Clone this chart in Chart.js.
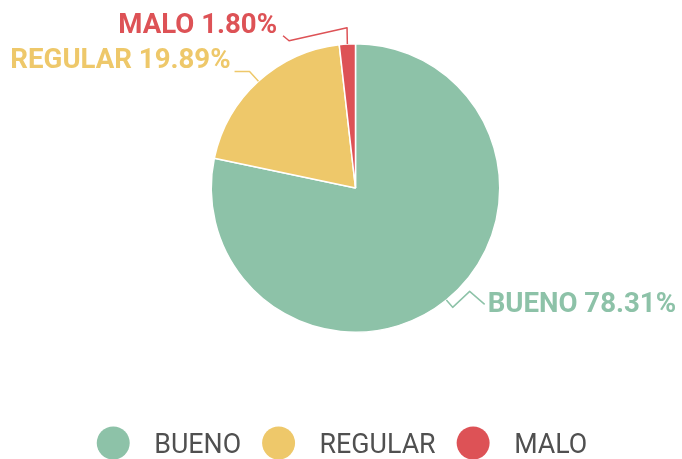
<!DOCTYPE html>
<html>
<head>
<meta charset="utf-8">
<script src="https://cdn.jsdelivr.net/npm/chart.js@4.4.1/dist/chart.umd.min.js"></script>
<style>
  html, body { margin: 0; padding: 0; background: #ffffff; }
  canvas { display: block; }
</style>
</head>
<body>
<canvas id="chart" width="682" height="459"></canvas>
<script>
// Rating categories and their share of responses (percent)
const categories = ['BUENO', 'REGULAR', 'MALO'];
const shares = [78.31, 19.89, 1.80];
const sliceColors = ['#8dc2a8', '#eec86a', '#dd5256'];

// Leader-line bends and label placement, relative to each slice's outer midpoint
const calloutStyle = [
  { bends: [[6.3, 7.3], [23.3, -8.7], [38.3, 4.3]], text: [41.3, 5.3], align: 'left' },
  { bends: [[-8.9, -9.8], [-23.9, -9.8]], text: [-27.9, -20.3], align: 'right' },
  { bends: [[-0.3, -16.2], [-58.3, -3.2], [-64.3, -8.2]], text: [-70.3, -18.2], align: 'right' }
];

const LABEL_FONT = 'bold 27.6px Roboto, "Noto Sans", sans-serif';
const LEGEND_FONT = '26.8px Roboto, "Noto Sans", sans-serif';

// Percentage callouts with zigzag leader lines
const calloutPlugin = {
  id: 'callouts',
  afterDatasetsDraw(chart) {
    const ctx = chart.ctx;
    const arcs = chart.getDatasetMeta(0).data;
    ctx.save();
    arcs.forEach((arc, i) => {
      const p = arc.getProps(['x', 'y', 'startAngle', 'endAngle', 'outerRadius'], true);
      const mid = (p.startAngle + p.endAngle) / 2;
      const ax = p.x + Math.cos(mid) * p.outerRadius;
      const ay = p.y + Math.sin(mid) * p.outerRadius;
      const st = calloutStyle[i];
      ctx.strokeStyle = sliceColors[i];
      ctx.lineWidth = 1.5;
      ctx.lineJoin = 'round';
      ctx.beginPath();
      ctx.moveTo(ax, ay);
      st.bends.forEach(([dx, dy]) => ctx.lineTo(ax + dx, ay + dy));
      ctx.stroke();
      ctx.fillStyle = sliceColors[i];
      ctx.font = LABEL_FONT;
      ctx.textAlign = st.align;
      ctx.textBaseline = 'middle';
      ctx.fillText(categories[i] + ' ' + shares[i].toFixed(2) + '%', ax + st.text[0], ay + st.text[1]);
    });
    ctx.restore();
  }
};

// Centered legend row with round markers
const legendPlugin = {
  id: 'roundLegend',
  afterDraw(chart) {
    const ctx = chart.ctx;
    const r = 16.5;
    const markerToText = 41;   // marker centre to label start
    const textToMarker = 21;   // label end to next marker's edge
    ctx.save();
    ctx.font = LEGEND_FONT;
    const widths = categories.map(c => ctx.measureText(c).width);
    let total = 0;
    widths.forEach((w, i) => { total += r + markerToText + w + (i < widths.length - 1 ? textToMarker : 0); });
    let x = (chart.width - total) / 2 + 1;
    const cy = 443;
    categories.forEach((c, i) => {
      const cx = x + r;
      ctx.fillStyle = sliceColors[i];
      ctx.beginPath();
      ctx.arc(cx, cy, r, 0, Math.PI * 2);
      ctx.fill();
      ctx.fillStyle = '#505050';
      ctx.textAlign = 'left';
      ctx.textBaseline = 'middle';
      ctx.fillText(c, cx + markerToText, cy + 3);
      x = cx + markerToText + widths[i] + textToMarker;
    });
    ctx.restore();
  }
};

new Chart(document.getElementById('chart'), {
  type: 'pie',
  data: {
    labels: categories,
    datasets: [{
      data: shares,
      backgroundColor: sliceColors,
      borderColor: '#ffffff',
      borderWidth: 1.5
    }]
  },
  options: {
    responsive: false,
    devicePixelRatio: 1,
    animation: false,
    layout: { padding: { top: 43, bottom: 126, left: 210, right: 181 } },
    plugins: {
      legend: { display: false },
      tooltip: { enabled: false }
    }
  },
  plugins: [calloutPlugin, legendPlugin]
});
</script>
</body>
</html>
